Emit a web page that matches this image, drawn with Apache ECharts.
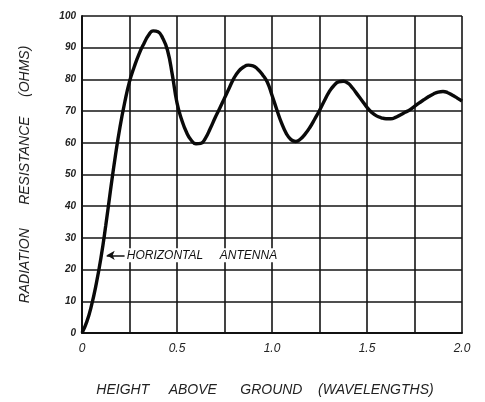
<!DOCTYPE html>
<html><head><meta charset="utf-8">
<script src="https://cdn.jsdelivr.net/npm/echarts@6/dist/echarts.min.js"></script>
<style>html,body{margin:0;padding:0;background:#fff}#c{width:485px;height:402px}</style>
</head><body><div id="c"></div>
<script>
// Height above ground (wavelengths), read every 0.025
const heights = [0,0.025,0.05,0.075,0.10,0.125,0.15,0.175,0.20,0.225,0.25,0.275,0.30,0.325,0.35,0.375,0.40,0.425,0.45,0.475,0.50,0.525,0.55,0.575,0.60,0.625,0.65,0.675,0.70,0.725,0.75,0.775,0.80,0.825,0.85,0.875,0.90,0.925,0.95,0.975,1.00,1.025,1.05,1.075,1.10,1.125,1.15,1.175,1.20,1.225,1.25,1.275,1.30,1.325,1.35,1.375,1.40,1.425,1.45,1.475,1.50,1.525,1.55,1.575,1.60,1.625,1.65,1.675,1.70,1.725,1.75,1.775,1.80,1.825,1.85,1.875,1.90,1.925,1.95,1.975,2.00];
// Radiation resistance (ohms)
const resistance = [0,3.5,8.7,15.5,23.8,33.9,45,55.6,65,72.8,79.3,84,88,91.2,93.9,95.3,95.0,93.0,89.2,81.6,72.6,67.2,63.3,60.8,59.7,59.8,61.5,64.5,67.8,70.9,74.1,77.3,80.4,82.6,83.9,84.5,84.3,83.2,81.5,79.2,75,70.5,66.3,63,61,60.4,61.2,62.8,64.9,67.5,70.2,73.2,76,78,79.2,79.4,78.8,77.2,75.2,73.2,71.2,69.6,68.5,67.9,67.6,67.6,68,68.8,69.6,70.4,71.5,72.6,73.6,74.6,75.4,76,76.2,75.8,75,74.1,73.2];
const xTicks = ['0','0.5','1.0','1.5','2.0'];
const yTicks = [0,10,20,30,40,50,60,70,80,90,100];
const noteText = 'HORIZONTAL     ANTENNA';
const notePos = [0.13, 24.5];
const noteLineEnd = 0.225;

const font = 'Liberation Sans';
const chart = echarts.init(document.getElementById('c'));
chart.setOption({
  animation:false,
  backgroundColor:'#fff',
  grid:{left:82,right:23,top:16,bottom:67},
  xAxis:{type:'value',min:0,max:2,interval:0.25,
    name:'HEIGHT     ABOVE      GROUND    (WAVELENGTHS)',nameLocation:'middle',nameGap:50,
    nameTextStyle:{fontFamily:font,fontStyle:'italic',fontSize:14,color:'#222',padding:[0,14,0,0]},
    axisLine:{show:true,lineStyle:{color:'#111',width:2}},
    axisTick:{show:false},
    splitLine:{show:true,lineStyle:{color:'#151515',width:1.6}},
    axisLabel:{margin:10,fontFamily:font,fontStyle:'italic',fontSize:12,color:'#222',
      formatter:v=>{const i=Math.round(v/0.5);return Math.abs(v-i*0.5)<1e-6?xTicks[i]:'';}}
  },
  yAxis:{type:'value',min:0,max:100,interval:10,
    name:'RADIATION      RESISTANCE     (OHMS)',nameLocation:'middle',nameGap:50,
    nameTextStyle:{fontFamily:font,fontStyle:'italic',fontSize:14,color:'#222'},
    axisLine:{show:true,lineStyle:{color:'#111',width:2}},
    axisTick:{show:false},
    splitLine:{show:true,lineStyle:{color:'#151515',width:1.6}},
    axisLabel:{margin:6,fontFamily:font,fontStyle:'italic',fontWeight:'bold',fontSize:10,color:'#222',
      formatter:v=>yTicks.includes(v)?String(v):''}
  },
  series:[{
    type:'line',smooth:0.5,showSymbol:false,
    data:heights.map((h,i)=>[h,resistance[i]]),
    lineStyle:{color:'#0a0a0a',width:3.4},
    markLine:{silent:true,symbol:['arrow','none'],symbolSize:[7,8],
      lineStyle:{color:'#111',width:1.5,type:'solid'},label:{show:false},
      data:[[{coord:notePos},{coord:[noteLineEnd,notePos[1]]}]]},
    markPoint:{silent:true,symbol:'circle',symbolSize:0,
      data:[{coord:[noteLineEnd,notePos[1]],label:{show:true,position:'right',distance:0,formatter:noteText,
        fontFamily:font,fontStyle:'italic',fontSize:12,color:'#111',backgroundColor:'#fff',padding:[1,2]}}]}
  }]
});
</script></body></html>
